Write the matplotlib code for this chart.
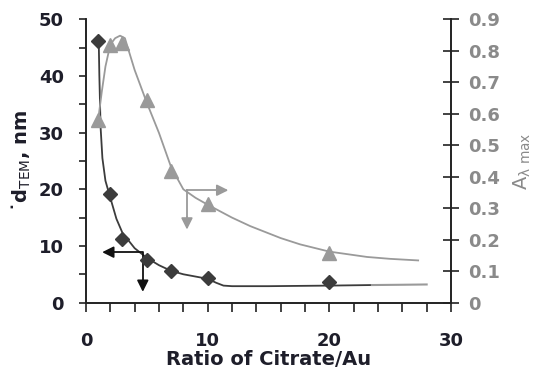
"""Citrate/Au ratio vs particle size (d_TEM) and absorbance maximum."""

import matplotlib

matplotlib.use("Agg")
import matplotlib.pyplot as plt

# measured points
ratio = [1, 2, 3, 5, 7, 10, 20]
d_tem = [46.1, 19.1, 11.2, 7.6, 5.5, 4.4, 3.7]
a_max = [0.58, 0.818, 0.826, 0.644, 0.417, 0.314, 0.158]

# fitted guide curves
d_fit_x = [1.05, 1.1, 1.2, 1.35, 1.6, 2.0, 2.5, 3.0, 4.0, 5.0, 6.0, 7.0,
           8.0, 9.0, 10.0, 10.7, 11.3, 12.0, 15.0, 20.0, 23.5]
d_fit_y = [46.0, 40.0, 31.0, 25.5, 21.5, 18.5, 14.8, 12.3, 9.6, 7.9, 6.6,
           5.6, 5.0, 4.6, 4.2, 3.5, 3.0, 2.9, 2.9, 3.0, 3.1]
d_tail_x = [23.5, 26.0, 28.0]
d_tail_y = [3.1, 3.15, 3.2]
a_fit_x = [1.0, 1.3, 1.6, 2.0, 2.4, 2.8, 3.2, 4.0, 5.0, 6.0, 7.0, 8.0, 9.0,
           10.0, 12.0, 13.5, 16.0, 17.6, 20.0, 23.1, 25.0, 27.3]
a_fit_y = [0.58, 0.67, 0.75, 0.82, 0.84, 0.848, 0.84, 0.739, 0.635, 0.539,
           0.43, 0.36, 0.333, 0.311, 0.27, 0.243, 0.205, 0.185, 0.162, 0.145,
           0.139, 0.134]

# axis-pointing arrows: corner, then tips
d_arrow = (4.67, 8.9, 1.33, 1.9)   # corner x, corner y, left tip x, down tip y
a_arrow = (8.3, 0.357, 11.7, 0.232)  # corner x, corner y, right tip x, down tip y

DARK = "#3c3c3c"
GREY = "#9a9a9a"
INK = "#1e1e2a"
LBL_GREY = "#8a8a8a"

plt.rcParams["font.family"] = ["DejaVu Sans"]
plt.rcParams["mathtext.fontset"] = "custom"
plt.rcParams["mathtext.rm"] = "DejaVu Sans"

fig = plt.figure(figsize=(5.35, 3.74), dpi=100)
ax = fig.add_axes([0.1607, 0.1909, 0.6823, 0.7575])
ax2 = ax.twinx()

ax.set_xlim(0, 30)
ax.set_ylim(0, 50)
ax2.set_ylim(0, 0.9)

# curves
ax.plot(d_fit_x, d_fit_y, color=DARK, lw=1.3, zorder=2)
ax.plot(d_tail_x, d_tail_y, color=GREY, lw=1.5, zorder=2)
ax2.plot(a_fit_x, a_fit_y, color=GREY, lw=1.3, zorder=2)

ax.plot(ratio, d_tem, "D", color=DARK, ms=7, zorder=3)
ax2.plot(ratio, a_max, "^", color=GREY, ms=9.5, zorder=3)

# arrows
cx, cy, lx, dy = d_arrow
ax.plot([lx + 0.6, cx, cx], [cy, cy, dy + 1.5], color="#111111", lw=1.3)
ax.annotate("", xy=(lx, cy), xytext=(lx + 0.8, cy),
            arrowprops=dict(arrowstyle="-|>", color="#111111", lw=1.3,
                            mutation_scale=17, shrinkA=0, shrinkB=0))
ax.annotate("", xy=(cx, dy), xytext=(cx, dy + 2.0),
            arrowprops=dict(arrowstyle="-|>", color="#111111", lw=1.3,
                            mutation_scale=17, shrinkA=0, shrinkB=0))
cx, cy, rx, dy = a_arrow
ax2.plot([cx, rx - 0.6], [cy, cy], color=GREY, lw=1.3)
ax2.plot([cx, cx], [cy, dy + 0.03], color=GREY, lw=1.3)
ax2.annotate("", xy=(rx, cy), xytext=(rx - 0.8, cy),
             arrowprops=dict(arrowstyle="-|>", color=GREY, lw=1.3,
                             mutation_scale=17, shrinkA=0, shrinkB=0))
ax2.annotate("", xy=(cx, dy), xytext=(cx, dy + 0.04),
             arrowprops=dict(arrowstyle="-|>", color=GREY, lw=1.3,
                             mutation_scale=17, shrinkA=0, shrinkB=0))

# spines and ticks
for a in (ax, ax2):
    a.spines["top"].set_visible(False)
    for s in ("left", "right", "bottom"):
        a.spines[s].set_color("#222222")
        a.spines[s].set_linewidth(1.2)

ax.set_xticks(range(0, 31, 10))
ax.set_xticks(range(0, 31, 2), minor=True)
ax.set_yticks(range(0, 51, 10))
ax.set_yticks(range(0, 51, 5), minor=True)
ax.tick_params(axis="x", which="both", direction="out", length=6.5,
               width=1.2, color="#222222", pad=15, labelsize=13,
               labelcolor=INK)
ax.tick_params(axis="y", which="both", direction="out", length=5,
               width=1.2, color="#222222", pad=11, labelsize=13,
               labelcolor=INK)
for lab in ax.get_xticklabels() + ax.get_yticklabels():
    lab.set_fontweight("bold")

ax2.set_yticks([i / 10 for i in range(10)])
ax2.set_yticklabels(["0"] + [f"{i / 10:.1f}" for i in range(1, 10)])
ax2.tick_params(axis="y", direction="inout", length=12, width=1.2,
                color="#222222", pad=6, labelsize=13, labelcolor=LBL_GREY)
for lab in ax2.get_yticklabels():
    lab.set_fontweight("bold")

ax.set_xlabel("Ratio of Citrate/Au", fontsize=14, fontweight="bold",
              color=INK, labelpad=0)
ax.set_ylabel("\u02d9d$_{\\rm TEM}$, nm", fontsize=14, fontweight="bold",
              color=INK, labelpad=4)
ax2.set_ylabel("A$_{\\rm\\lambda\\ max}$", fontsize=14, color=LBL_GREY,
               labelpad=9)

fig.savefig("out.png", dpi=100)
